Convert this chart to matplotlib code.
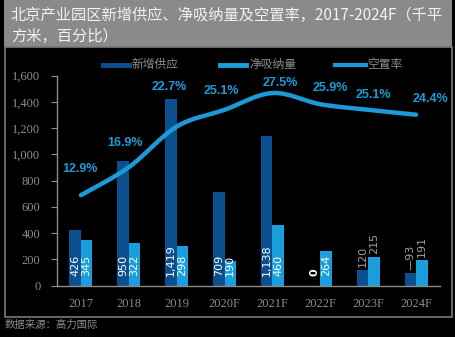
import matplotlib
matplotlib.use("Agg")
import matplotlib.pyplot as plt
from matplotlib.patches import Rectangle
from matplotlib.lines import Line2D
from matplotlib.path import Path
from matplotlib.patches import PathPatch
import numpy as np

categories = ["2017", "2018", "2019", "2020F", "2021F", "2022F", "2023F", "2024F"]
new_supply = [426, 950, 1419, 709, 1138, 0, 120, 93]
net_absorption = [345, 322, 298, 190, 460, 264, 215, 191]
vacancy = [12.9, 16.9, 22.7, 25.1, 27.5, 25.9, 25.1, 24.4]
supply_labels = ["426", "950", "1,419", "709", "1,138", "0", "120", "—93"]
absorb_labels = ["345", "322", "298", "190", "460", "264", "215", "191"]
y_ticks = [0, 200, 400, 600, 800, 1000, 1200, 1400, 1600]
y_tick_labels = ["0", "200", "400", "600", "800", "1,000", "1,200", "1,400", "1,600"]
title_lines = ["北京产业园区新增供应、净吸纳量及空置率，2017-2024F（千平", "方米，百分比）"]
legend_names = ["新增供应", "净吸纳量", "空置率"]
source_text = "数据来源：高力国际"

DARK = "#0c4f8e"
LIGHT = "#1a9fdc"
LINEC = "#1c9ad8"
GRAY = "#8c8c8c"
CJK = ["Noto Sans CJK SC", "DejaVu Sans"]

W, H = 456, 337
fig = plt.figure(figsize=(W / 100, H / 100), dpi=100, facecolor="black")


def fx(x):
    return x / W


def fy(y):
    return (H - y) / H


# title band and chart frame
fig.add_artist(Rectangle((fx(4), fy(47)), fx(448), 47 / H, transform=fig.transFigure,
                         facecolor="#8a8a8a", edgecolor="none", zorder=0))
fig.add_artist(Rectangle((fx(5), fy(317)), fx(447), 270 / H, transform=fig.transFigure,
                         facecolor="black", edgecolor="#7a7a7a", linewidth=1.2, zorder=0))
fig.text(fx(11), fy(15), title_lines[0], family=CJK, fontsize=11, color="#f2f2f2", va="center", ha="left")
fig.text(fx(11), fy(36), title_lines[1], family=CJK, fontsize=11, color="#f2f2f2", va="center", ha="left")
fig.text(fx(5), fy(325), source_text, family=CJK, fontsize=7.5, color=GRAY, va="center", ha="left")

ax = fig.add_axes([fx(57), fy(285.5), fx(383), 210 / H])
ax.set_facecolor("none")
x = np.arange(len(categories))
bw = 0.24
ax.bar(x - bw / 2, new_supply, bw, color=DARK, zorder=2)
ax.bar(x + bw / 2, net_absorption, bw, color=LIGHT, zorder=2)
ax.set_xlim(-0.5, len(categories) - 0.5)
ax.set_ylim(0, 1600)
ax.set_yticks(y_ticks)
ax.set_yticklabels(y_tick_labels, family="Liberation Serif", fontsize=9, color=GRAY)
ax.set_xticks(x)
ax.set_xticklabels(categories, family="Liberation Serif", fontsize=9, color=GRAY)
ax.tick_params(axis="x", length=0, pad=9)
ax.tick_params(axis="y", length=4, color=GRAY, pad=8)
for s in ["top", "right"]:
    ax.spines[s].set_visible(False)
for s in ["left", "bottom"]:
    ax.spines[s].set_color(GRAY)
    ax.spines[s].set_linewidth(1)

outside = {6, 7}
for i in range(len(categories)):
    for val, lab, off in ((new_supply[i], supply_labels[i], -bw / 2), (net_absorption[i], absorb_labels[i], bw / 2)):
        if i in outside:
            ax.annotate(lab, (x[i] + off, val), xytext=(0, 3), textcoords="offset pixels",
                        rotation=90, ha="center", va="bottom", fontsize=8, color="#a0a0a0",
                        family="DejaVu Sans", zorder=4)
        elif val == 0:
            ax.annotate(lab, (x[i] + off, 0), xytext=(0, 9), textcoords="offset pixels",
                        rotation=90, ha="center", va="bottom", fontsize=8, color="white",
                        fontweight="bold", family="DejaVu Sans", zorder=4)
        else:
            ax.annotate(lab, (x[i] + off, 0), xytext=(0, 9), textcoords="offset pixels",
                        rotation=90, ha="center", va="bottom", fontsize=8, color="white",
                        family="DejaVu Sans", zorder=4)

# secondary axis for vacancy line
ax2 = ax.twinx()
ax2.set_ylim(0, 30)
ax2.axis("off")
pts = np.column_stack([x.astype(float), np.array(vacancy, dtype=float)])
n = len(pts)
verts = [tuple(pts[0])]
codes = [Path.MOVETO]
for i in range(n - 1):
    p0 = pts[max(i - 1, 0)]
    p1 = pts[i]
    p2 = pts[i + 1]
    p3 = pts[min(i + 2, n - 1)]
    c1 = p1 + (p2 - p0) / 6
    c2 = p2 - (p3 - p1) / 6
    verts += [tuple(c1), tuple(c2), tuple(p2)]
    codes += [Path.CURVE4] * 3
ax2.add_patch(PathPatch(Path(verts, codes), facecolor="none", edgecolor=LINEC, linewidth=3.2,
                        capstyle="round", joinstyle="round", zorder=5))

lab_dx = [-1, -4, -7, -3, 8, 10, 5, 14]
lab_dy = [26, 24, 40, 19, 10, 16, 15, 16]
for i, v in enumerate(vacancy):
    ax2.annotate(f"{v:.1f}%", (x[i], v), xytext=(lab_dx[i], lab_dy[i]), textcoords="offset pixels",
                 ha="center", va="center", fontsize=9, fontweight="bold", color=LINEC,
                 family="Liberation Sans", zorder=6)

# legend (manual)
ly = 64.5
fig.add_artist(Line2D([fx(103), fx(129)], [fy(ly), fy(ly)], color=DARK, linewidth=3.5, transform=fig.transFigure))
fig.text(fx(132), fy(ly), legend_names[0], family=CJK, fontsize=8.5, color=GRAY, va="center", ha="left")
fig.add_artist(Line2D([fx(220), fx(246)], [fy(ly), fy(ly)], color=LIGHT, linewidth=3.5, transform=fig.transFigure))
fig.text(fx(249), fy(ly), legend_names[1], family=CJK, fontsize=8.5, color=GRAY, va="center", ha="left")
fig.add_artist(Line2D([fx(335), fx(366)], [fy(ly), fy(ly)], color=LINEC, linewidth=3.0, transform=fig.transFigure))
fig.text(fx(367), fy(ly), legend_names[2], family=CJK, fontsize=8.5, color=GRAY, va="center", ha="left")

fig.savefig("out.png", dpi=100, facecolor="black")
